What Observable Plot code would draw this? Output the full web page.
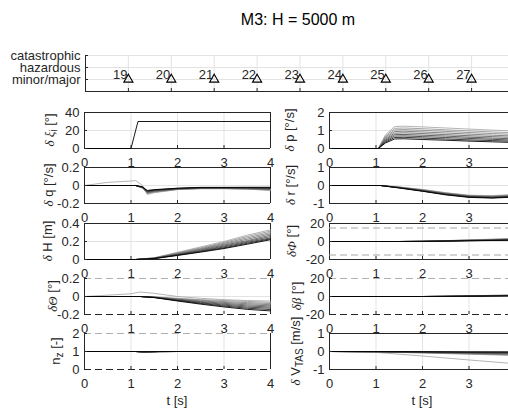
<!DOCTYPE html>
<html><head><meta charset="utf-8">
<script src="https://cdn.jsdelivr.net/npm/d3@7"></script>
<script src="https://cdn.jsdelivr.net/npm/@observablehq/plot@0.6"></script>
<style>
html,body{margin:0;padding:0;background:#fff;overflow:hidden}
#fig{position:relative;width:508px;height:409px;overflow:hidden;background:#fff}
#fig svg{position:absolute}
</style></head><body><div id="fig"></div>
<script>
// ---------------- data ----------------
const caseIds = [19, 20, 21, 22, 23, 24, 25, 26, 27];
const caseRisk = [1, 1, 1, 1, 1, 1, 1, 1, 1];
const riskLevels = ["minor/major", "hazardous", "catastrophic"];
const tTicksLeft = [0, 1, 2, 3, 4];
const tTicksRight = [0, 1, 2, 3];
const shades = ["#ababab", "#9a9a9a", "#888888", "#767676", "#636363", "#505050", "#3c3c3c", "#222222", "#000000"];

const xiT = [0, 1, 1.15, 4];
const xiV = [[0, 0, 30, 30]];

const pT = [0, 1.05, 1.2, 1.4, 1.6, 2, 2.5, 3, 3.5, 4];
const pV = [
  [0, 0, 0.75, 1.22, 1.24, 1.2, 1.14, 1.08, 1.02, 0.97],
  [0, 0, 0.68, 1.12, 1.14, 1.1, 1.04, 0.98, 0.92, 0.87],
  [0, 0, 0.62, 1.03, 1.05, 1.01, 0.95, 0.89, 0.83, 0.78],
  [0, 0, 0.56, 0.94, 0.96, 0.92, 0.86, 0.8, 0.74, 0.69],
  [0, 0, 0.5, 0.85, 0.87, 0.83, 0.77, 0.71, 0.66, 0.61],
  [0, 0, 0.45, 0.77, 0.78, 0.74, 0.69, 0.63, 0.58, 0.53],
  [0, 0, 0.4, 0.69, 0.7, 0.66, 0.61, 0.56, 0.51, 0.46],
  [0, 0, 0.35, 0.61, 0.62, 0.58, 0.53, 0.48, 0.44, 0.4],
  [0, 0, 0.3, 0.53, 0.54, 0.5, 0.46, 0.41, 0.37, 0.33]
];

const qT = [0, 0.5, 1, 1.1, 1.25, 1.35, 1.5, 2, 2.5, 3, 3.5, 4];
const qV = [
  [0, 0.035, 0.05, 0.055, 0.0, -0.1, -0.08, -0.045, -0.035, -0.035, -0.04, -0.045],
  [0, 0, 0, 0, -0.03, -0.09, -0.075, -0.045, -0.035, -0.035, -0.04, -0.055],
  [0, 0, 0, 0, -0.028, -0.085, -0.07, -0.042, -0.033, -0.033, -0.038, -0.05],
  [0, 0, 0, 0, -0.026, -0.08, -0.066, -0.04, -0.031, -0.031, -0.035, -0.045],
  [0, 0, 0, 0, -0.024, -0.075, -0.062, -0.038, -0.029, -0.029, -0.032, -0.04],
  [0, 0, 0, 0, -0.022, -0.07, -0.058, -0.036, -0.027, -0.027, -0.029, -0.035],
  [0, 0, 0, 0, -0.02, -0.065, -0.054, -0.034, -0.025, -0.025, -0.026, -0.03],
  [0, 0, 0, 0, -0.018, -0.06, -0.05, -0.032, -0.023, -0.023, -0.023, -0.025],
  [0, 0, 0, 0, -0.016, -0.055, -0.046, -0.03, -0.021, -0.021, -0.02, -0.02]
];

const rT = [0, 1.1, 1.5, 2, 2.5, 3, 3.5, 4];
const rV = [
  [0, 0, -0.08, -0.22, -0.4, -0.54, -0.56, -0.5],
  [0, 0, -0.09, -0.23, -0.41, -0.55, -0.58, -0.52],
  [0, 0, -0.1, -0.25, -0.43, -0.57, -0.6, -0.54],
  [0, 0, -0.1, -0.26, -0.44, -0.58, -0.62, -0.56],
  [0, 0, -0.11, -0.27, -0.46, -0.6, -0.63, -0.58],
  [0, 0, -0.12, -0.28, -0.47, -0.61, -0.65, -0.59],
  [0, 0, -0.12, -0.3, -0.49, -0.63, -0.67, -0.61],
  [0, 0, -0.13, -0.31, -0.5, -0.64, -0.68, -0.62],
  [0, 0, -0.14, -0.32, -0.52, -0.66, -0.7, -0.64]
];

const hT = [0, 1.1, 1.5, 2, 2.5, 3, 3.5, 4];
const hV = [
  [0, 0, 0.02, 0.08, 0.14, 0.2, 0.27, 0.33],
  [0, 0, 0.018, 0.075, 0.13, 0.19, 0.255, 0.315],
  [0, 0, 0.016, 0.07, 0.122, 0.18, 0.24, 0.3],
  [0, 0, 0.015, 0.065, 0.115, 0.17, 0.225, 0.285],
  [0, 0, 0.014, 0.06, 0.108, 0.16, 0.21, 0.27],
  [0, 0, 0.013, 0.056, 0.1, 0.15, 0.2, 0.255],
  [0, 0, 0.012, 0.052, 0.094, 0.14, 0.19, 0.24],
  [0, 0, 0.011, 0.048, 0.088, 0.13, 0.18, 0.23],
  [0, 0, 0.01, 0.045, 0.082, 0.122, 0.17, 0.22]
];

const phiT = [0, 1.5, 2, 2.5, 3, 3.5, 4];
const phiV = [
  [0, 0, 0.3, 1.0, 1.8, 2.6, 3.4],
  [0, 0, 0.28, 0.92, 1.65, 2.4, 3.1],
  [0, 0, 0.25, 0.85, 1.5, 2.2, 2.85],
  [0, 0, 0.22, 0.78, 1.38, 2.0, 2.6],
  [0, 0, 0.2, 0.7, 1.25, 1.8, 2.35],
  [0, 0, 0.18, 0.62, 1.12, 1.6, 2.1],
  [0, 0, 0.15, 0.55, 1.0, 1.4, 1.85],
  [0, 0, 0.12, 0.48, 0.9, 1.25, 1.65],
  [0, 0, 0.1, 0.4, 0.8, 1.1, 1.5]
];

const thT = [0, 1, 1.2, 1.5, 2, 2.5, 3, 3.5, 4];
const thV = [
  [0, 0.03, 0.05, 0.035, 0.0, -0.02, -0.035, -0.045, -0.05],
  [0, 0, 0, -0.005, -0.02, -0.035, -0.045, -0.055, -0.065],
  [0, 0, 0, -0.006, -0.025, -0.042, -0.056, -0.068, -0.078],
  [0, 0, 0, -0.007, -0.029, -0.049, -0.066, -0.08, -0.091],
  [0, 0, 0, -0.008, -0.033, -0.056, -0.076, -0.093, -0.104],
  [0, 0, 0, -0.009, -0.037, -0.063, -0.086, -0.105, -0.117],
  [0, 0, 0, -0.01, -0.041, -0.07, -0.096, -0.118, -0.13],
  [0, 0, 0, -0.011, -0.045, -0.077, -0.106, -0.13, -0.145],
  [0, 0, 0, -0.012, -0.05, -0.085, -0.116, -0.143, -0.16]
];

const betaT = [0, 2, 2.5, 3, 3.5, 4];
const betaV = [
  [0, 0, 0.3, 0.8, 1.3, 1.7],
  [0, 0, 0.27, 0.73, 1.2, 1.57],
  [0, 0, 0.25, 0.67, 1.1, 1.45],
  [0, 0, 0.22, 0.6, 1.0, 1.32],
  [0, 0, 0.2, 0.55, 0.9, 1.2],
  [0, 0, 0.17, 0.48, 0.8, 1.07],
  [0, 0, 0.15, 0.42, 0.7, 0.95],
  [0, 0, 0.12, 0.36, 0.6, 0.82],
  [0, 0, 0.1, 0.3, 0.5, 0.7]
];

const nzT = [0, 1.1, 1.25, 1.4, 1.6, 2, 4];
const nzV = [
  [1, 1, 0.96, 0.97, 0.99, 1, 1],
  [1, 1, 0.965, 0.972, 0.99, 1, 1],
  [1, 1, 0.97, 0.975, 0.992, 1, 1],
  [1, 1, 0.972, 0.978, 0.993, 1, 1],
  [1, 1, 0.975, 0.98, 0.994, 1, 1],
  [1, 1, 0.978, 0.982, 0.995, 1, 1],
  [1, 1, 0.98, 0.985, 0.996, 1, 1],
  [1, 1, 0.985, 0.988, 0.997, 1, 1],
  [1, 1, 0.99, 0.99, 0.998, 1, 1]
];

const vT = [0, 1, 2, 3, 4];
const vV = [
  [0, -0.05, -0.25, -0.47, -0.68],
  [0, -0.03, -0.08, -0.15, -0.22],
  [0, -0.025, -0.07, -0.13, -0.19],
  [0, -0.02, -0.06, -0.11, -0.16],
  [0, -0.015, -0.05, -0.09, -0.13],
  [0, -0.01, -0.04, -0.07, -0.1],
  [0, -0.01, -0.03, -0.055, -0.08],
  [0, -0.005, -0.02, -0.035, -0.05],
  [0, 0, -0.01, -0.02, -0.02]
];

// ---------------- layout & style ----------------
const FONT = '"Liberation Sans", Arial, Helvetica, sans-serif';
const AX = "#262626", GRID = "#e3e3e3", DASH = "7,4";
const colX0 = [84, 329], PW = 186, PH = 36;
const rowTops = [112, 167, 223, 278, 333];
const fig = document.getElementById("fig");

const panels = [
  {col: 0, row: 0, t: xiT, v: xiV, domain: [0, 40], ticks: [0, 20, 40], lx: 49.5,
   label: [["δ ξ", "it"], ["i", "sub"], [" [°]", ""]]},
  {col: 0, row: 1, t: qT, v: qV, domain: [-0.2, 0.2], ticks: [-0.2, 0, 0.2], lx: 48,
   label: [["δ", "it"], [" q [°/s]", ""]]},
  {col: 0, row: 2, t: hT, v: hV, domain: [0, 0.4], ticks: [0, 0.2, 0.4], lx: 47,
   label: [["δ", "it"], [" H [m]", ""]]},
  {col: 0, row: 3, t: thT, v: thV, domain: [-0.2, 0.2], ticks: [-0.2, 0, 0.2], lx: 52, edgeDash: true,
   label: [["δΘ", "it"], [" [°]", ""]]},
  {col: 0, row: 4, t: nzT, v: nzV, domain: [0, 2], ticks: [0, 1, 2], lx: 55, edgeDash: true,
   label: [["n", ""], ["z", "sub"], [" [-]", ""]]},
  {col: 1, row: 0, t: pT, v: pV, domain: [0, 2], ticks: [0, 1, 2], lx: 289,
   label: [["δ", "it"], [" p [°/s]", ""]]},
  {col: 1, row: 1, t: rT, v: rV, domain: [-1, 1], ticks: [-1, 0, 1], lx: 290.5,
   label: [["δ", "it"], [" r [°/s]", ""]]},
  {col: 1, row: 2, t: phiT, v: phiV, domain: [-20, 20], ticks: [-20, 0, 20], lx: 291, inner: [-15, 15],
   label: [["δΦ", "it"], [" [°]", ""]]},
  {col: 1, row: 3, t: betaT, v: betaV, domain: [-20, 20], ticks: [-20, 0, 20], lx: 296, edgeDash: true,
   label: [["δβ", "it"], [" [°]", ""]]},
  {col: 1, row: 4, t: vT, v: vV, domain: [-1, 1], ticks: [-1, 0, 1], lx: 295,
   label: [["δ", "it"], [" V", ""], ["TAS", "sub"], [" [m/s]", ""]]}
];

function styleFor(left, top, w, h) {
  return {position: "absolute", left: left + "px", top: top + "px", width: w + "px", height: h + "px",
    maxWidth: "none", background: "transparent", overflow: "visible",
    fontFamily: FONT, fontSize: "13px", color: AX};
}

// ---------------- risk panel ----------------
{
  const ml = 85, mr = 5, mt = 6, mb = 10, w = ml + 429 + mr, h = mt + PH + mb;
  const svg = Plot.plot({
    width: w, height: h, marginLeft: ml, marginRight: mr, marginTop: mt, marginBottom: mb,
    style: styleFor(0, 55 - mt, w, h),
    x: {domain: [18, 28]}, y: {domain: [0, 3]},
    marks: [
      Plot.gridX(caseIds, {stroke: GRID, strokeOpacity: 1}),
      Plot.gridY([1, 2, 3], {stroke: GRID, strokeOpacity: 1}),
      Plot.ruleX([18], {stroke: AX}),
      Plot.ruleY([0], {stroke: AX}),
      Plot.axisX(caseIds, {tickSize: -3, tickFormat: () => "", label: null, stroke: AX}),
      Plot.axisY([1, 2, 3], {tickSize: -3, tickPadding: 8, tickFormat: d => riskLevels[d - 1], label: null, stroke: AX, fill: AX}),
      Plot.dot(caseIds.map((c, i) => ({c, r: caseRisk[i]})), {x: "c", y: "r", symbol: "triangle", r: 3.4, stroke: "#000", fill: "none", strokeWidth: 1.1}),
      Plot.text(caseIds.map((c, i) => ({c, r: caseRisk[i]})), {x: "c", y: "r", text: d => String(d.c), textAnchor: "end", lineAnchor: "bottom", dx: -1, dy: -1, fill: AX})
    ]
  });
  fig.appendChild(svg);
}

// ---------------- time-history panels ----------------
for (const s of panels) {
  const ml = 40, mr = 6, mt = 6, mb = 24, w = ml + PW + mr, h = mt + PH + mb;
  const x0 = colX0[s.col], top = rowTops[s.row];
  const [y0, y1] = s.domain;
  const data = s.v.flatMap((vals, i) => vals.map((y, j) => ({t: s.t[j], y, k: i, c: s.v.length === 1 ? "#000000" : shades[i]})));
  const marks = [
    Plot.gridX([1, 2, 3], {stroke: GRID, strokeOpacity: 1}),
    Plot.gridY(s.ticks.slice(1, -1), {stroke: GRID, strokeOpacity: 1}),
    Plot.ruleX([0], {stroke: AX}),
    Plot.ruleX([4], {stroke: AX})
  ];
  if (s.edgeDash) {
    marks.push(Plot.ruleY([y1], {stroke: "#b0b0b0", strokeDasharray: DASH}));
    marks.push(Plot.ruleY([y0], {stroke: AX, strokeDasharray: DASH}));
  } else {
    marks.push(Plot.ruleY([y0, y1], {stroke: AX}));
  }
  if (s.inner) marks.push(Plot.ruleY(s.inner, {stroke: "#a6a6a6", strokeDasharray: DASH}));
  marks.push(Plot.line(data, {x: "t", y: "y", z: "k", stroke: "c", strokeWidth: 0.9}));
  marks.push(Plot.axisX(s.col ? tTicksRight : tTicksLeft, {tickSize: -3, tickPadding: 12, tickFormat: d => String(d), label: null, stroke: AX, fill: AX}));
  marks.push(Plot.axisY(s.ticks, {tickSize: -3, tickPadding: 8, tickFormat: d => String(d), label: null, stroke: AX, fill: AX}));
  const svg = Plot.plot({
    width: w, height: h, marginLeft: ml, marginRight: mr, marginTop: mt, marginBottom: mb,
    style: styleFor(x0 - ml, top - mt, w, h),
    x: {domain: [0, 4]}, y: {domain: s.domain},
    color: {type: "identity"},
    marks
  });
  fig.appendChild(svg);
}

// ---------------- titles & axis labels (text overlay) ----------------
const ov = d3.create("svg").attr("width", 508).attr("height", 409)
  .style("left", "0px").style("top", "0px").style("font-family", FONT).attr("fill", AX);
ov.append("text").attr("x", 298).attr("y", 25).attr("text-anchor", "middle")
  .attr("font-size", 16).attr("fill", "#000").text("M3: H = 5000 m");
for (const s of panels) {
  const cy = rowTops[s.row] + PH / 2;
  const t = ov.append("text").attr("transform", `translate(${s.lx},${cy}) rotate(-90)`)
    .attr("text-anchor", "middle").attr("dy", "0.35em").attr("font-size", 13);
  let shift = 0;
  for (const [str, kind] of s.label) {
    const ts = t.append("tspan").text(str);
    if (kind === "it") ts.attr("font-style", "italic").attr("font-family", '"Liberation Serif", serif');
    if (kind === "sub") { ts.attr("font-size", 10).attr("dy", 3); shift = 3; }
    else if (shift) { ts.attr("dy", -shift); shift = 0; }
  }
}
for (const c of [0, 1]) {
  ov.append("text").attr("x", colX0[c] + PW * 2 / 4).attr("y", 405).attr("text-anchor", "middle")
    .attr("font-size", 13).text("t [s]");
}
fig.appendChild(ov.node());
</script></body></html>
